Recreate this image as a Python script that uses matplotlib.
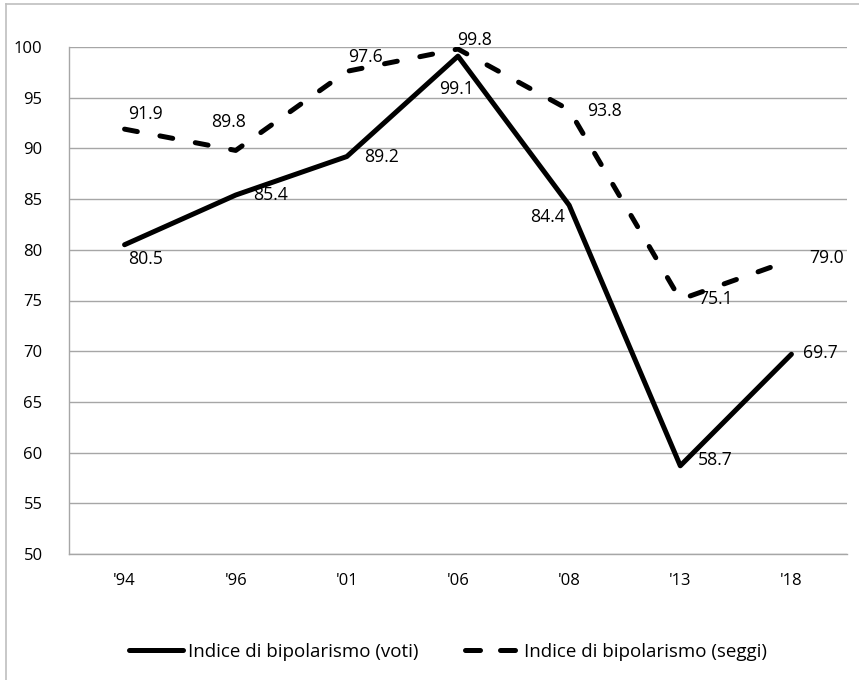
import matplotlib
matplotlib.use("Agg")
import matplotlib.pyplot as plt
from matplotlib.lines import Line2D

categories = ["'94", "'96", "'01", "'06", "'08", "'13", "'18"]
voti = [80.5, 85.4, 89.2, 99.1, 84.4, 58.7, 69.7]
seggi = [91.9, 89.8, 97.6, 99.8, 93.8, 75.1, 79.0]
label_voti = "Indice di bipolarismo (voti)"
label_seggi = "Indice di bipolarismo (seggi)"

# label offsets in pixels (styling)
off_voti = [(21, -14), (35, 0), (35, 0), (-2, -33), (-22, -12), (35, 6), (29, 1)]
off_seggi = [(21, 15), (-7, 28), (19, 14), (17, 9), (35, -1), (35, 0), (35, 2)]

plt.rcParams['font.family'] = ['Open Sans', 'DejaVu Sans']
FS = 12.7

fig = plt.figure(figsize=(8.59, 6.80), dpi=100)
W, H = 859, 680
ax = fig.add_axes([69 / W, 1 - 554 / H, (847 - 69) / W, (554 - 47) / H])

x = list(range(len(categories)))
lw = 3.6
ax.plot(x, voti, color='black', lw=lw, solid_capstyle='round', solid_joinstyle='round', zorder=3)
ls, = ax.plot(x, seggi, color='black', lw=lw, dash_capstyle='round', dash_joinstyle='round', zorder=3)
ls.set_dashes([2.6, 4.6])

for xi, v, o in zip(x, voti, off_voti):
    ax.annotate(f"{v:.1f}", (xi, v), xytext=o, textcoords='offset pixels',
                ha='center', va='center', fontsize=FS, color='black', zorder=4)
for xi, v, o in zip(x, seggi, off_seggi):
    ax.annotate(f"{v:.1f}", (xi, v), xytext=o, textcoords='offset pixels',
                ha='center', va='center', fontsize=FS, color='black', zorder=4)

ax.set_xlim(-0.5, len(categories) - 0.5)
ax.set_ylim(50, 100)
ax.set_yticks(range(50, 101, 5))
ax.set_xticks(x)
ax.set_xticklabels(categories)
ax.tick_params(axis='both', length=0, labelsize=12, colors='black')
ax.tick_params(axis='y', pad=19)
ax.tick_params(axis='x', pad=14)
ax.grid(axis='y', color='#a6a6a6', lw=1.0, zorder=0)
for s in ['top', 'right']:
    ax.spines[s].set_visible(False)
ax.spines['left'].set_color('#a6a6a6')
ax.spines['bottom'].set_color('#a6a6a6')
ax.spines['left'].set_linewidth(1.0)
ax.spines['bottom'].set_linewidth(1.0)

h1 = Line2D([], [], color='black', lw=lw, solid_capstyle='round')
h2 = Line2D([], [], color='black', lw=lw, dash_capstyle='round')
h2.set_dashes([3.0, 4.0])
fig.legend([h1, h2], [label_voti, label_seggi], loc='center left',
           bbox_to_anchor=(129 / W, 1 - 652 / H), ncol=2, frameon=False,
           prop={'size': 13.5},
           borderpad=0, borderaxespad=0,
           handlelength=2.88, handletextpad=0.27, columnspacing=2.45)

# chart border (left and top visible)
fig.add_artist(Line2D([6 / W, 6 / W], [0, 1 - 4 / H], color='#bfbfbf', lw=1.2, transform=fig.transFigure))
fig.add_artist(Line2D([6 / W, 1], [1 - 4 / H, 1 - 4 / H], color='#bfbfbf', lw=1.2, transform=fig.transFigure))

fig.savefig('out.png', dpi=100)
